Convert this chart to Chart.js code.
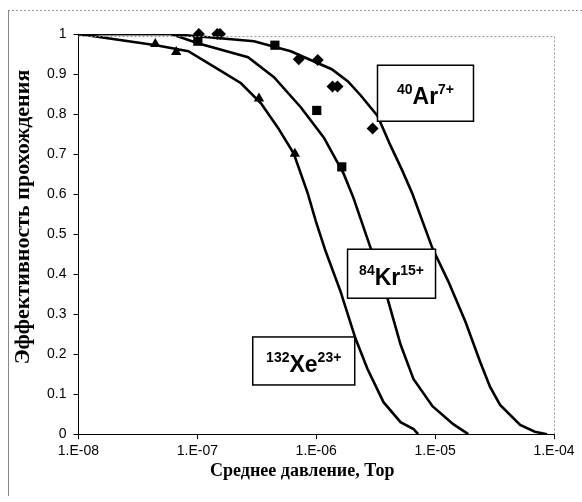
<!DOCTYPE html>
<html>
<head>
<meta charset="utf-8">
<script src="https://cdn.jsdelivr.net/npm/chart.js@4.4.1/dist/chart.umd.min.js"></script>
<style>
  html, body { margin: 0; padding: 0; background: #fff; }
  #wrap { width: 582px; height: 502px; position: relative; }
</style>
</head>
<body>
<div id="wrap"><canvas id="transChart"></canvas></div>
<script>
// measured points (pressure in Torr, transmission)
const arP = [1.03e-7, 1.47e-7, 1.55e-7, 7.13e-7, 1.03e-6, 1.37e-6, 1.51e-6, 2.98e-6];
const arT = [1.0, 1.0, 1.0, 0.937, 0.935, 0.869, 0.869, 0.764];
const krP = [1.01e-7, 4.49e-7, 1.01e-6, 1.64e-6];
const krT = [0.982, 0.972, 0.809, 0.668];
const xeP = [4.43e-8, 6.64e-8, 3.30e-7, 6.61e-7];
const xeT = [0.975, 0.955, 0.839, 0.701];

// calculated curves
const arCurveP = [1e-8, 6e-8, 3.0e-7, 6.1e-7, 1.35e-6, 1.84e-6, 2.36e-6, 3.28e-6, 4.22e-6, 5.31e-6, 6.44e-6, 7.81e-6, 9.48e-6, 1.29e-5, 1.80e-5, 2.39e-5, 2.90e-5, 3.52e-5, 5.19e-5, 6.9e-5, 8.73e-5];
const arCurveT = [1.0, 1.0, 0.982, 0.957, 0.912, 0.882, 0.847, 0.795, 0.721, 0.658, 0.601, 0.533, 0.465, 0.382, 0.281, 0.181, 0.118, 0.073, 0.023, 0.006, 0.0];
const krCurveP = [1e-8, 6.0e-8, 1.01e-7, 2.67e-7, 4.41e-7, 7.41e-7, 1.16e-6, 1.70e-6, 2.06e-6, 2.87e-6, 3.98e-6, 5.12e-6, 6.57e-6, 9.5e-6, 1.42e-5, 1.90e-5];
const krCurveT = [1.0, 1.0, 0.977, 0.942, 0.892, 0.817, 0.741, 0.651, 0.590, 0.465, 0.339, 0.224, 0.138, 0.070, 0.025, 0.0];
const xeCurveP = [1e-8, 4.5e-8, 8.4e-8, 1.49e-7, 2.33e-7, 3.43e-7, 4.76e-7, 6.47e-7, 8.5e-7, 9.9e-7, 1.20e-6, 1.60e-6, 2.14e-6, 2.70e-6, 3.68e-6, 5.12e-6, 6.58e-6, 7.2e-6];
const xeCurveT = [1.0, 0.972, 0.957, 0.912, 0.877, 0.827, 0.766, 0.701, 0.601, 0.533, 0.457, 0.357, 0.239, 0.163, 0.080, 0.030, 0.013, 0.0];

const xTicks = [1e-8, 1e-7, 1e-6, 1e-5, 1e-4];
const xTickLabels = ['1.E-08', '1.E-07', '1.E-06', '1.E-05', '1.E-04'];
const yTickLabels = ['0', '0.1', '0.2', '0.3', '0.4', '0.5', '0.6', '0.7', '0.8', '0.9', '1'];

const xTitle = 'Среднее давление, Тор';
const yTitle = 'Эффективность прохождения';

// ion labels
const ionMass = ['40', '84', '132'];
const ionName = ['Ar', 'Kr', 'Xe'];
const ionCharge = ['7+', '15+', '23+'];

const pts = (xs, ys) => xs.map((x, i) => ({ x: x, y: ys[i] }));

const curve = (xs, ys) => ({
  data: pts(xs, ys),
  showLine: true,
  borderColor: '#000',
  borderWidth: 2.6,
  pointRadius: 0,
  tension: 0,
  order: 2
});

const marks = (xs, ys, style, r) => ({
  data: pts(xs, ys),
  showLine: false,
  pointStyle: style,
  pointRadius: r,
  backgroundColor: '#000',
  borderColor: '#000',
  borderWidth: 0,
  clip: false,
  order: 1
});

// frame, axis titles and ion boxes
const extras = {
  id: 'extras',
  afterDraw(chart, args, opts) {
    const { ctx, chartArea: a, scales } = chart;
    ctx.save();
    // dotted top/right border of plot area
    ctx.strokeStyle = '#9a9a9a';
    ctx.lineWidth = 1;
    ctx.setLineDash([2, 2]);
    ctx.beginPath();
    ctx.moveTo(a.left, a.top + 2.5);
    ctx.lineTo(a.right + 0.5, a.top + 2.5);
    ctx.lineTo(a.right + 0.5, a.bottom);
    ctx.stroke();
    // outer chart frame pieces
    ctx.beginPath();
    ctx.moveTo(8, 10.5);
    ctx.lineTo(582, 10.5);
    ctx.stroke();
    ctx.setLineDash([]);
    ctx.strokeStyle = '#888';
    ctx.beginPath();
    ctx.moveTo(8.5, 10);
    ctx.lineTo(8.5, 496);
    ctx.stroke();

    // axis titles
    ctx.fillStyle = '#000';
    ctx.textAlign = 'center';
    ctx.textBaseline = 'middle';
    ctx.font = 'bold 18px "Liberation Serif", "Times New Roman", serif';
    ctx.fillText(xTitle, (a.left + a.right) / 2 - 14, 471);
    ctx.translate(23, 217);
    ctx.rotate(-Math.PI / 2);
    ctx.font = 'bold 22px "Liberation Serif", "Times New Roman", serif';
    ctx.fillText(yTitle, 0, 0);
    ctx.setTransform(1, 0, 0, 1, 0, 0);

    // ion label boxes
    opts.boxes.forEach((b, i) => {
      const cx = scales.x.getPixelForValue(b.p);
      const cy = scales.y.getPixelForValue(b.t);
      ctx.fillStyle = '#fff';
      ctx.fillRect(cx - b.w / 2, cy - b.h / 2, b.w, b.h);
      ctx.strokeStyle = '#000';
      ctx.lineWidth = 1.5;
      ctx.strokeRect(cx - b.w / 2, cy - b.h / 2, b.w, b.h);

      const supFont = 'bold 14px "Liberation Sans", Arial, sans-serif';
      const bigFont = 'bold 23px "Liberation Sans", Arial, sans-serif';
      ctx.font = supFont;
      const w1 = ctx.measureText(ionMass[i]).width;
      const w3 = ctx.measureText(ionCharge[i]).width;
      ctx.font = bigFont;
      const w2 = ctx.measureText(ionName[i]).width;
      let x = cx - (w1 + w2 + w3) / 2;
      const base = cy + 11;
      ctx.fillStyle = '#000';
      ctx.textBaseline = 'alphabetic';
      ctx.textAlign = 'left';
      ctx.font = supFont;
      ctx.fillText(ionMass[i], x, base - 10);
      x += w1;
      ctx.font = bigFont;
      ctx.fillText(ionName[i], x, base);
      x += w2;
      ctx.font = supFont;
      ctx.fillText(ionCharge[i], x, base - 10);
    });
    ctx.restore();
  }
};

const tickFont = { family: '"Liberation Sans", Arial, sans-serif', size: 14 };

new Chart(document.getElementById('transChart'), {
  type: 'scatter',
  data: {
    datasets: [
      curve(arCurveP, arCurveT),
      curve(krCurveP, krCurveT),
      curve(xeCurveP, xeCurveT),
      marks(arP, arT, 'rectRot', 6),
      marks(krP, krT, 'rect', 6.5),
      marks(xeP, xeT, 'triangle', 6)
    ]
  },
  options: {
    responsive: true,
    maintainAspectRatio: false,
    animation: false,
    layout: { padding: { left: 40, right: 28, top: 34, bottom: 38 } },
    plugins: {
      legend: { display: false },
      tooltip: { enabled: false },
      extras: {
        boxes: [
          { p: 8.3e-6, t: 0.852, w: 96, h: 56 },
          { p: 4.3e-6, t: 0.401, w: 88, h: 49 },
          { p: 7.85e-7, t: 0.183, w: 102, h: 48 }
        ]
      }
    },
    scales: {
      x: {
        type: 'logarithmic',
        min: 1e-8,
        max: 1e-4,
        afterBuildTicks: axis => { axis.ticks = xTicks.map(v => ({ value: v })); },
        ticks: {
          callback: (v, i) => xTickLabels[i],
          font: tickFont,
          color: '#000',
          maxRotation: 0,
          autoSkip: false,
          padding: 4
        },
        grid: { drawOnChartArea: false, drawTicks: true, tickLength: 5, color: '#000' },
        border: { display: true, color: '#000', width: 1 }
      },
      y: {
        min: 0,
        max: 1,
        ticks: {
          stepSize: 0.1,
          callback: (v, i) => yTickLabels[i],
          font: tickFont,
          color: '#000',
          padding: 7
        },
        grid: { drawOnChartArea: false, drawTicks: true, tickLength: 5, color: '#000' },
        border: { display: true, color: '#000', width: 1 }
      }
    }
  },
  plugins: [extras]
});
</script>
</body>
</html>
